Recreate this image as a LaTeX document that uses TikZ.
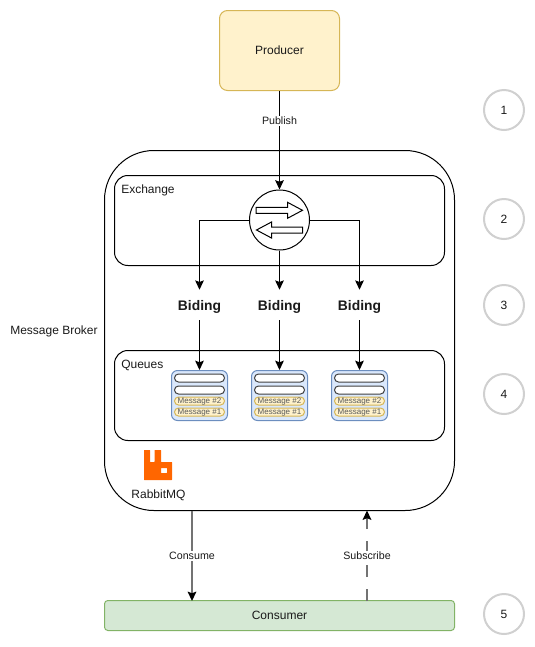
\documentclass[tikz,border=0pt]{standalone}
\usepackage{fontspec}
\setmainfont{Liberation Sans}
\usetikzlibrary{arrows.meta,calc}
\newcommand{\pxx}[1]{#1*0.75pt}
\definecolor{prodfill}{HTML}{FFF2CC}
\definecolor{prodline}{HTML}{D6B656}
\definecolor{qfill}{HTML}{DAE8FC}
\definecolor{qline}{HTML}{6C8EBF}
\definecolor{consfill}{HTML}{D5E8D4}
\definecolor{consline}{HTML}{82B366}
\definecolor{rabbit}{HTML}{FF6600}
\definecolor{numline}{HTML}{D0D0D0}
\definecolor{txt}{HTML}{1A1A1A}
\tikzset{
  x=0.75pt,y=-0.75pt,
  every node/.style={text=txt,inner sep=0pt,font=\fontsize{9}{11}\selectfont},
  boxed/.style={draw=black,line width=0.75pt,rounded corners=#1},
  link/.style={draw=black,line width=0.75pt,-{Stealth[length=7pt,width=6.5pt,inset=1.2pt]}},
  heavylink/.style={draw=black!55,line width=1.2pt,-{Stealth[length=7pt,width=6.5pt,inset=1.2pt,color=black]}},
  flowlabel/.style={fill=white,font=\fontsize{8}{10}\selectfont,inner xsep=1pt,inner ysep=1pt},
  bindlabel/.style={font=\bfseries\fontsize{10.4}{12}\selectfont,minimum width=\pxx{50},minimum height=\pxx{30},text height=10pt,text depth=1.8pt},
  stepnum/.style={circle,draw=numline,line width=1.5pt,fill=white,minimum size=\pxx{40}},
  queuebox/.style={draw=qline,fill=qfill,line width=0.75pt,rounded corners=4.5pt,minimum width=\pxx{56},minimum height=\pxx{50}},
  slot/.style={draw=black!75,fill=white,line width=0.75pt,rounded corners=3pt,minimum width=\pxx{50},minimum height=\pxx{8}},
  msg/.style={draw=prodline,fill=prodfill,line width=0.75pt,rounded corners=3pt,minimum width=\pxx{50},minimum height=\pxx{8},text=black!65,font=\fontsize{6}{6}\selectfont,text height=4.4pt,text depth=0.6pt},
  blockarrow/.style={draw=black,fill=white,line width=0.75pt,line join=miter},
}
\begin{document}
\begin{tikzpicture}
\useasboundingbox (0,0) rectangle (535,647);
% Producer
\node[draw=prodline,fill=prodfill,line width=0.75pt,rounded corners=6pt,minimum width=\pxx{120},minimum height=\pxx{80}] (producer) at (279.5,50.5) {Producer};
% Broker and inner containers
\node[boxed=37pt,minimum width=\pxx{350},minimum height=\pxx{360}] (broker) at (279.5,330.5) {};
\node[boxed=10pt,minimum width=\pxx{330},minimum height=\pxx{90}] (exchange) at (279.5,220.5) {};
\node[boxed=10pt,minimum width=\pxx{330},minimum height=\pxx{90}] (queues) at (279.5,395.5) {};
\node[anchor=west] (exlabel) at (121,190) {Exchange};
\node[anchor=west] (qulabel) at (121,365) {Queues};
\node[anchor=west] (brokerlabel) at (10,331) {Message Broker};
\node (rmqlabel) at (158.5,495) {RabbitMQ};
% Exchange symbol
\node[circle,draw=black,fill=white,line width=0.75pt,minimum size=\pxx{60}] (hub) at (279.5,220) {};
\draw[blockarrow] (256,207.3) -- (287.5,207.3) -- (287.5,202.3) -- (302.5,210.3) -- (287.5,218.3) -- (287.5,213.3) -- (256,213.3) -- cycle;
\draw[blockarrow] (302.5,227) -- (271.5,227) -- (271.5,222) -- (256.5,230) -- (271.5,238) -- (271.5,233) -- (302.5,233) -- cycle;
% Bindings
\node[bindlabel] (bindA) at (199.5,305) {Biding};
\node[bindlabel] (bindB) at (279.5,305) {Biding};
\node[bindlabel] (bindC) at (359.5,305) {Biding};
% Queue stacks
\foreach \i/\cx in {A/199.5,B/279.5,C/359.5}{
  \node[queuebox] (q\i) at (\cx,395.5) {};
  \node[slot] at (\cx,378) (q\i s1) {};
  \node[slot] at (\cx,390) (q\i s2) {};
  \node[msg] at (\cx,401) (q\i m2) {Message \#2};
  \node[msg] at (\cx,412) (q\i m1) {Message \#1};
}
% Connectors
\draw[link] (producer.south) -- (hub.north) node[pos=0.305,flowlabel] (publish) {Publish};
\draw[link] (hub.west) -| (bindA.north);
\draw[link] (hub.south) -- (bindB.north);
\draw[link] (hub.east) -| (bindC.north);
\draw[link] (bindA.south) -- (qA.north);
\draw[link] (bindB.south) -- (qB.north);
\draw[link] (bindC.south) -- (qC.north);
% RabbitMQ logo
\fill[rabbit,even odd rule,rounded corners=0.3pt] (144,450) -- (150,450) -- (150,462) -- (154.5,462) -- (154.5,450) -- (161,450) -- (161,462) -- (172,462) -- (172,480) -- (144,480) -- cycle
  (161,468) -- (167,468) -- (167,473) -- (161,473) -- cycle;
% Consumer
\node[draw=consline,fill=consfill,line width=0.75pt,rounded corners=2.5pt,minimum width=\pxx{350},minimum height=\pxx{30}] (consumer) at (279.5,615.5) {Consumer};
\coordinate (consumeTop) at (192,510.5);
\coordinate (consumeEnd) at (192,601);
\coordinate (subStart) at (367,601);
\coordinate (subEnd) at (367,510.5);
\draw[heavylink] (consumeTop) -- (consumeEnd) node[pos=0.5,flowlabel] (consume) {Consume};
\draw[heavylink,dash pattern=on 9pt off 9pt] (subStart) -- (subEnd) node[pos=0.5,flowlabel] (subscribe) {Subscribe};
% Step numbers
\node[stepnum] (n1) at (504,110) {1};
\node[stepnum] (n2) at (504,219) {2};
\node[stepnum] (n3) at (504,305) {3};
\node[stepnum] (n4) at (504,394) {4};
\node[stepnum] (n5) at (504,614) {5};
\end{tikzpicture}
\end{document}
